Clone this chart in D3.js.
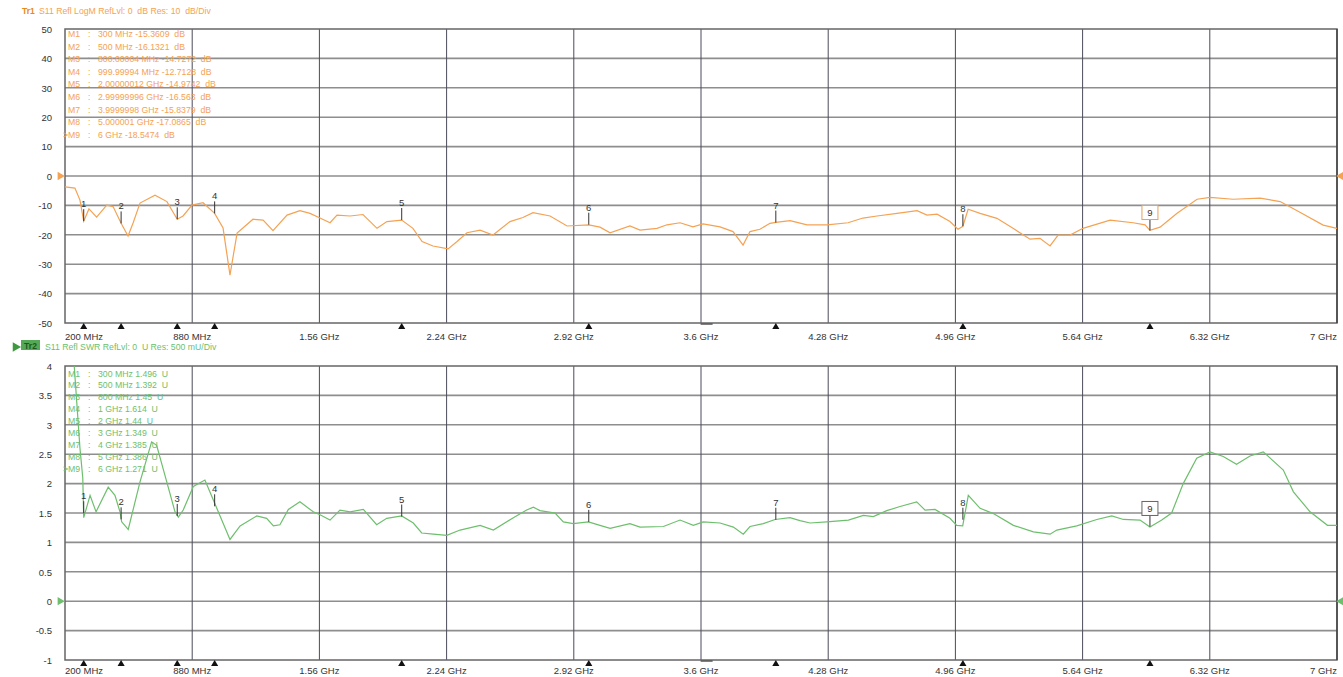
<html>
<head>
<meta charset="utf-8">
<style>
  body { margin: 0; background: #fff; }
  text { font-family: "Liberation Sans", Arial, sans-serif; }
</style>
</head>
<body>
<script src="https://d3js.org/d3.v7.min.js"></script>
<div id="chart"></div>
<script>
// ---- data ----
const freqTicks = [200, 880, 1560, 2240, 2920, 3600, 4280, 4960, 5640, 6320, 7000];
const freqLabels = ["200 MHz", "880 MHz", "1.56 GHz", "2.24 GHz", "2.92 GHz", "3.6 GHz",
                    "4.28 GHz", "4.96 GHz", "5.64 GHz", "6.32 GHz", "7 GHz"];
const dbTicks = [50, 40, 30, 20, 10, 0, -10, -20, -30, -40, -50];
const swrTicks = [4, 3.5, 3, 2.5, 2, 1.5, 1, 0.5, 0, -0.5, -1];

const markerFreq = [300, 500, 800, 1000, 2000, 3000, 4000, 5000, 6000];
const s11MarkerDb = [-15.3609, -16.1321, -14.7272, -12.7128, -14.9742, -16.563, -15.8379, -17.0865, -18.5474];
const s11MarkerText = ["300 MHz -15.3609  dB", "500 MHz -16.1321  dB", "800.00004 MHz -14.7272  dB",
  "999.99994 MHz -12.7128  dB", "2.00000012 GHz -14.9742  dB", "2.99999996 GHz -16.563  dB",
  "3.9999998 GHz -15.8379  dB", "5.000001 GHz -17.0865  dB", "6 GHz -18.5474  dB"];
const swrMarkerVal = [1.496, 1.392, 1.45, 1.614, 1.44, 1.349, 1.385, 1.386, 1.271];
const swrMarkerText = ["300 MHz 1.496  U", "500 MHz 1.392  U", "800 MHz 1.45  U", "1 GHz 1.614  U",
  "2 GHz 1.44  U", "3 GHz 1.349  U", "4 GHz 1.385  U", "5 GHz 1.386  U", "6 GHz 1.271  U"];

// S11 LogM trace (MHz, dB)
const s11Freq = [200, 253, 280, 300, 328, 369, 423, 457, 500, 537, 564, 601, 681, 745, 800, 831, 879, 938,
  1000, 1045, 1082, 1120, 1205, 1259, 1312, 1387, 1456, 1510, 1563, 1617, 1654, 1724, 1793, 1868, 1921,
  2000, 2060, 2109, 2167, 2248, 2296, 2349, 2419, 2488, 2579, 2648, 2702, 2793, 2884, 3000, 3060, 3114,
  3220, 3274, 3365, 3418, 3488, 3557, 3611, 3702, 3771, 3825, 3862, 3915, 3969, 4000, 4076, 4167, 4274,
  4386, 4466, 4541, 4648, 4755, 4808, 4862, 4931, 4974, 5000, 5028, 5092, 5182, 5268, 5359, 5412, 5466,
  5509, 5573, 5642, 5787, 5910, 5974, 6000, 6054, 6145, 6252, 6321, 6444, 6589, 6696, 6787, 6926, 7000];
const s11Db = [-3.7, -4.1, -8.2, -15.4, -11.2, -14, -9.9, -10.4, -16.1, -20.4, -16, -9.2, -6.5, -8.7, -14.7, -13.6, -9.9, -9.1,
  -12.7, -17.7, -33.7, -19.4, -14.7, -15, -18.6, -13.3, -11.8, -12.7, -14.3, -15.9, -13.3, -13.6, -13.1, -17.8, -15.5,
  -15, -17.8, -22.3, -23.8, -24.8, -22.3, -19.3, -18.4, -20.1, -15.5, -14.1, -12.5, -13.6, -17, -16.6, -17.4, -19.3,
  -17, -18.4, -17.8, -16.6, -15.9, -17.3, -16.3, -17.3, -18.9, -23.5, -18.9, -18.1, -16.1, -15.8, -15.2, -16.6, -16.6,
  -15.9, -14.3, -13.6, -12.7, -11.8, -13.3, -13, -15.5, -18.1, -17.1, -11.3, -12.7, -14.4, -17.8, -21.5, -21.2, -23.8,
  -20.1, -20.1, -17.8, -15, -15.9, -16.6, -18.5, -17.4, -12.7, -7.9, -7.3, -7.9, -7.5, -8.7, -11.8, -16.7, -17.8];

// SWR trace (MHz, U)
const swrFreq = [200, 245, 280, 295, 300, 334, 366, 431, 467, 494, 503, 538, 601, 663, 690, 744, 788, 806, 832,
  886, 948, 993, 1082, 1136, 1225, 1278, 1314, 1349, 1394, 1456, 1527, 1563, 1617, 1670, 1724, 1795, 1866,
  1920, 2000, 2062, 2107, 2169, 2241, 2312, 2419, 2490, 2597, 2668, 2704, 2739, 2820, 2864, 2917, 2998,
  3060, 3114, 3220, 3274, 3399, 3488, 3559, 3612, 3702, 3773, 3826, 3862, 3933, 3996, 4076, 4129, 4183,
  4272, 4388, 4468, 4521, 4593, 4664, 4753, 4798, 4851, 4931, 4967, 4999, 5029, 5092, 5163, 5270, 5377,
  5466, 5502, 5609, 5716, 5796, 5858, 5947, 6000, 6063, 6116, 6178, 6250, 6321, 6392, 6463, 6535, 6606,
  6713, 6767, 6856, 6949, 7000];
const swrVal = [4.8, 4.2, 2.6, 2.1, 1.42, 1.8, 1.52, 1.94, 1.8, 1.52, 1.35, 1.22, 2.03, 2.71, 2.65, 2.03, 1.52, 1.43, 1.55,
  1.95, 2.06, 1.72, 1.05, 1.28, 1.45, 1.41, 1.28, 1.3, 1.56, 1.69, 1.52, 1.47, 1.38, 1.55, 1.52, 1.56, 1.3,
  1.41, 1.45, 1.33, 1.16, 1.14, 1.12, 1.21, 1.29, 1.21, 1.42, 1.55, 1.6, 1.54, 1.5, 1.35, 1.32, 1.35,
  1.29, 1.24, 1.32, 1.26, 1.27, 1.38, 1.29, 1.35, 1.33, 1.26, 1.14, 1.27, 1.32, 1.39, 1.42, 1.37, 1.33,
  1.35, 1.38, 1.46, 1.44, 1.54, 1.61, 1.69, 1.55, 1.56, 1.41, 1.29, 1.28, 1.8, 1.58, 1.49, 1.29, 1.18,
  1.14, 1.21, 1.28, 1.39, 1.45, 1.39, 1.38, 1.26, 1.38, 1.5, 2.0, 2.43, 2.54, 2.46, 2.33, 2.47, 2.54,
  2.23, 1.86, 1.52, 1.29, 1.29];

const centerMark = 3630;

// ---- drawing ----
const W = 1343, H = 677;
const svg = d3.select("#chart").append("svg").attr("width", W).attr("height", H);

const x = d3.scaleLinear().domain([200, 7000]).range([65, 1337]);

function drawPanel(p) {
  const g = svg.append("g");
  const y = d3.scaleLinear().domain([p.ticks[p.ticks.length - 1], p.ticks[0]]).range([p.bottom, p.top]);

  // header
  if (p.boxTag) {
    g.append("path").attr("d", d3.symbol(d3.symbolTriangle, 40)())
      .attr("transform", `translate(15.5,${p.headY - 3}) rotate(90)`).attr("fill", p.dark);
    g.append("rect").attr("x", 21).attr("y", p.headY - 10).attr("width", 19).attr("height", 10)
      .attr("fill", "#55a855");
    g.append("text").attr("x", 30.5).attr("y", p.headY - 1.5).attr("text-anchor", "middle")
      .attr("font-size", 8.5).attr("font-weight", "bold").attr("fill", "#1d5a1d").text(p.tag);
  } else {
    g.append("text").attr("x", 22).attr("y", p.headY).attr("font-size", 8.5)
      .attr("font-weight", "bold").attr("fill", p.dark).text(p.tag);
  }
  g.append("text").attr("x", p.boxTag ? 45 : 39).attr("y", p.headY).attr("font-size", 8.7)
    .attr("fill", p.color).style("white-space", "pre").text(p.header);

  // grid
  g.selectAll(".hg").data(p.ticks.slice(1, -1)).join("line")
    .attr("x1", 65).attr("x2", 1337).attr("y1", d => y(d)).attr("y2", d => y(d))
    .attr("stroke", "#8e8e8e").attr("stroke-width", 1.6);
  g.selectAll(".vg").data(freqTicks.slice(1, -1)).join("line")
    .attr("x1", d => x(d)).attr("x2", d => x(d)).attr("y1", p.top).attr("y2", p.bottom)
    .attr("stroke", "#4a4a5a").attr("stroke-width", 1);
  g.append("rect").attr("x", 65).attr("y", p.top).attr("width", 1272).attr("height", p.bottom - p.top)
    .attr("fill", "none").attr("stroke", "#666").attr("stroke-width", 1.5);
  g.append("line").attr("x1", 1337).attr("x2", 1337).attr("y1", p.top).attr("y2", p.bottom)
    .attr("stroke", "#333").attr("stroke-width", 1.2);

  // y labels
  const ya = g.append("g").attr("transform", "translate(56,0)")
    .call(d3.axisLeft(y).tickValues(p.ticks).tickSize(0).tickPadding(0).tickFormat(d => String(d)));
  ya.select(".domain").remove();
  ya.selectAll("text").attr("font-size", 9.5).attr("fill", "#333")
    .style("font-family", "'Liberation Sans', Arial, sans-serif").attr("dy", "0.35em").attr("x", -4);

  // x labels
  g.selectAll(".xl").data(freqTicks).join("text")
    .attr("x", d => x(d)).attr("y", p.bottom + p.labelDy).attr("font-size", 9.5).attr("fill", "#333")
    .attr("text-anchor", (d, i) => i === 0 ? "start" : (i === freqTicks.length - 1 ? "end" : "middle"))
    .text((d, i) => freqLabels[i]);

  // center mark
  g.append("line").attr("x1", x(centerMark) - 6).attr("x2", x(centerMark) + 6)
    .attr("y1", p.bottom + 1).attr("y2", p.bottom + 1).attr("stroke", "#555").attr("stroke-width", 1.5);

  // reference level arrows
  g.append("path").attr("d", d3.symbol(d3.symbolTriangle, 30)())
    .attr("transform", `translate(60,${y(0)}) rotate(90)`).attr("fill", p.color);
  g.append("path").attr("d", d3.symbol(d3.symbolTriangle, 30)())
    .attr("transform", `translate(1341,${y(0)}) rotate(-90)`).attr("fill", p.color);

  // marker triangles under the axis
  g.selectAll(".mt").data(markerFreq).join("path")
    .attr("d", d3.symbol(d3.symbolTriangle, 22)())
    .attr("transform", d => `translate(${x(d)},${p.bottom + 4})`).attr("fill", "#111");

  // trace
  const clipId = "clip" + p.tag;
  svg.append("clipPath").attr("id", clipId).append("rect")
    .attr("x", 65).attr("y", p.top).attr("width", 1272).attr("height", p.bottom - p.top);
  const line = d3.line().x(d => x(d[0])).y(d => y(d[1]));
  g.append("path").datum(p.freq.map((f, i) => [f, p.vals[i]]))
    .attr("clip-path", `url(#${clipId})`)
    .attr("d", line).attr("fill", "none").attr("stroke", p.color).attr("stroke-width", 1.2);

  // marker list
  p.mText.forEach((t, i) => {
    const yy = p.listY + i * p.listStep;
    const last = i === p.mText.length - 1;
    if (last) g.append("text").attr("x", 63).attr("y", yy).attr("font-size", 8.7).attr("fill", p.color).text(">");
    g.append("text").attr("x", 68).attr("y", yy).attr("font-size", 8.7).attr("fill", p.color).text("M" + (i + 1));
    g.append("text").attr("x", 88).attr("y", yy).attr("font-size", 8.7).attr("fill", p.color).text(":");
    g.append("text").attr("x", 98).attr("y", yy).attr("font-size", 8.7).attr("fill", p.color)
      .style("white-space", "pre").text(t);
  });

  // marker flags on the trace
  markerFreq.forEach((f, i) => {
    const mx = x(f), my = y(p.mVals[i]);
    const active = i === markerFreq.length - 1;
    const len = active ? 11 : 12;
    g.append("line").attr("x1", mx).attr("x2", mx).attr("y1", my).attr("y2", my - len)
      .attr("stroke", "#333").attr("stroke-width", 1);
    if (active) {
      g.append("rect").attr("x", mx - 8).attr("y", my - len - 14).attr("width", 16).attr("height", 14)
        .attr("fill", "#fff").attr("stroke", p.boxStroke).attr("stroke-width", 1);
      g.append("text").attr("x", mx).attr("y", my - len - 3.5).attr("text-anchor", "middle")
        .attr("font-size", 9.5).attr("fill", "#333").text(i + 1);
    } else {
      g.append("text").attr("x", mx).attr("y", my - len - 2).attr("text-anchor", "middle")
        .attr("font-size", 9.5).attr("fill", "#333").text(i + 1);
    }
  });
}

drawPanel({
  tag: "Tr1", header: "S11 Refl LogM RefLvl: 0  dB Res: 10  dB/Div", headY: 14, boxTag: false,
  color: "#f5a253", dark: "#e88a1a", boxStroke: "#e6a25a",
  top: 29, bottom: 323, ticks: dbTicks, labelDy: 16.5,
  freq: s11Freq, vals: s11Db, mVals: s11MarkerDb, mText: s11MarkerText,
  listY: 37, listStep: 12.6
});

drawPanel({
  tag: "Tr2", header: "S11 Refl SWR RefLvl: 0  U Res: 500 mU/Div", headY: 350, boxTag: true,
  color: "#6dbf6d", dark: "#3e9a3e", boxStroke: "#666",
  top: 366, bottom: 660, ticks: swrTicks, labelDy: 14,
  freq: swrFreq, vals: swrVal, mVals: swrMarkerVal, mText: swrMarkerText,
  listY: 376.5, listStep: 11.9
});
</script>
</body>
</html>
